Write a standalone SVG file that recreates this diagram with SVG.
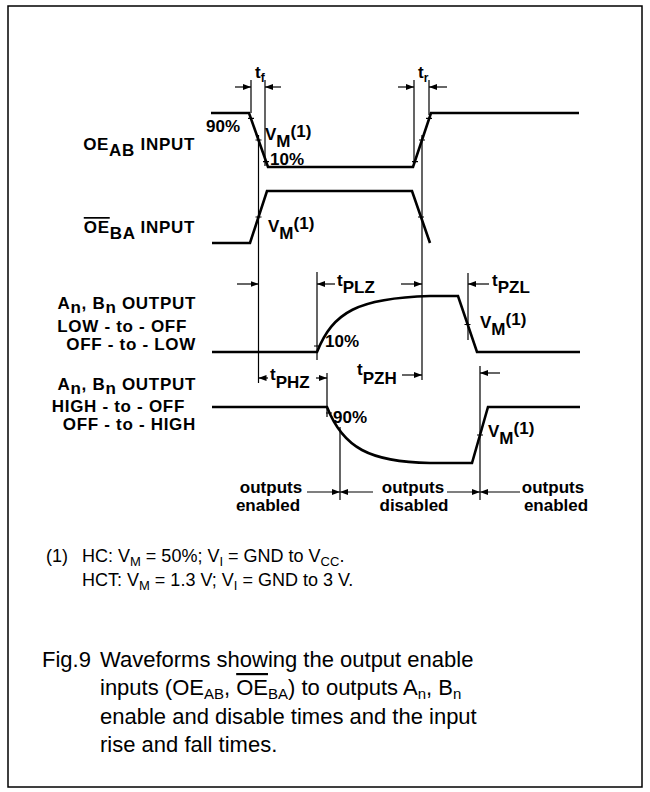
<svg xmlns="http://www.w3.org/2000/svg" width="650" height="792" viewBox="0 0 650 792">
<style>
.w{fill:none;stroke:#000;stroke-width:2.6;stroke-linejoin:miter}
.g{fill:none;stroke:#000;stroke-width:1.2}
.tk{stroke:#000;stroke-width:1.2}
.lb{font-family:"Liberation Sans",Arial,Helvetica,sans-serif;font-weight:bold;font-size:17px;fill:#000}
.ll{letter-spacing:0.7px}
.fn{font-family:"Liberation Sans",Arial,Helvetica,sans-serif;font-size:18px;fill:#000}
.cap{font-family:"Liberation Sans",Arial,Helvetica,sans-serif;font-size:22px;fill:#000}
.ol{text-decoration:overline}
</style>
<defs>
<marker id="ah" markerWidth="8" markerHeight="6" refX="8" refY="3" orient="auto" markerUnits="userSpaceOnUse">
<path d="M0,0 L8,3 L0,6 Z" fill="#000"/>
</marker>
</defs>
<rect x="8" y="6" width="634" height="781" fill="#fff" stroke="#000" stroke-width="1.5"/>

<g id="oeab">
<path class="w" d="M211 113 H249 L268 167 H413 L431 113 H579"/>
<path class="tk" d="M248 118.4 h6 M255.5 140 h6 M263 161.6 h6 M412 161.6 h6 M419 140 h6 M426 118.4 h6"/>
<text class="lb ll" x="195" y="150" text-anchor="end">OE<tspan dy="6">AB</tspan><tspan dy="-6"> INPUT</tspan></text>
<text class="lb" x="206" y="132">90%</text>
<text class="lb" x="265" y="140">V<tspan dy="7">M</tspan><tspan dy="-10">(1)</tspan></text>
<text class="lb" x="270" y="165">10%</text>
</g>

<g id="oeba">
<path class="w" d="M212 243 H250 L267 191 H412 L430 243"/>
<path class="tk" d="M255.5 217 h6 M418 217 h6"/>
<text class="lb ll" x="195" y="233" text-anchor="end"><tspan class="ol">OE</tspan><tspan dy="6">BA</tspan><tspan dy="-6"> INPUT</tspan></text>
<text class="lb" x="268" y="232">V<tspan dy="7">M</tspan><tspan dy="-10">(1)</tspan></text>
</g>

<g id="out-low">
<path class="w" d="M212 352 H317 C333 312 358 298 430 296 H458 L477 352 H580"/>
<path class="tk" d="M314 346 h6 M464.5 324.5 h6"/>
<text class="lb ll" x="196" y="309" text-anchor="end">A<tspan dy="4">n</tspan><tspan dy="-4">, B</tspan><tspan dy="4">n</tspan><tspan dy="-4"> OUTPUT</tspan></text>
<text class="lb ll" x="187" y="332" text-anchor="end">LOW - to - OFF</text>
<text class="lb ll" x="196" y="350" text-anchor="end">OFF - to - LOW</text>
<text class="lb" x="325" y="347">10%</text>
<text class="lb" x="480" y="328">V<tspan dy="7">M</tspan><tspan dy="-10">(1)</tspan></text>
</g>

<g id="out-high">
<path class="w" d="M212 407 H327 C343 448 370 462 430 463 H472 L488 407 H580"/>
<path class="tk" d="M326 413 h6 M477 435 h6"/>
<text class="lb ll" x="196" y="390" text-anchor="end">A<tspan dy="4">n</tspan><tspan dy="-4">, B</tspan><tspan dy="4">n</tspan><tspan dy="-4"> OUTPUT</tspan></text>
<text class="lb ll" x="185" y="412" text-anchor="end">HIGH - to - OFF</text>
<text class="lb ll" x="196" y="430" text-anchor="end">OFF - to - HIGH</text>
<text class="lb" x="333" y="423">90%</text>
<text class="lb" x="488" y="437">V<tspan dy="7">M</tspan><tspan dy="-10">(1)</tspan></text>
</g>

<g id="timing-labels">
<text class="lb" x="255" y="78">t<tspan dy="4" font-size="12">f</tspan></text>
<text class="lb" x="418" y="78">t<tspan dy="4" font-size="12">r</tspan></text>
<text class="lb" x="337" y="286">t<tspan dy="7">PLZ</tspan></text>
<text class="lb" x="492" y="286">t<tspan dy="7">PZL</tspan></text>
<text class="lb" x="270" y="380">t<tspan dy="8">PHZ</tspan></text>
<text class="lb" x="357" y="375">t<tspan dy="9">PZH</tspan></text>
</g>

<g id="status-labels">
<text class="lb" x="271" y="493" text-anchor="middle">outputs</text>
<text class="lb" x="268" y="511" text-anchor="middle">enabled</text>
<text class="lb" x="413" y="493" text-anchor="middle">outputs</text>
<text class="lb" x="414" y="511" text-anchor="middle">disabled</text>
<text class="lb" x="553" y="493" text-anchor="middle">outputs</text>
<text class="lb" x="556" y="511" text-anchor="middle">enabled</text>
</g>

<g id="connectors">
<path class="g" d="M251 80 V113 M265 80 V166 M258.5 135 V383 M414 80 V165 M429 80 V115 M422 135 V380 M317 272 V360 M327 373 V417 M468 273 V340 M480 366 V500 M340 427 V500"/>
<g class="g" marker-end="url(#ah)">
<line x1="235" y1="87" x2="251" y2="87"/>
<line x1="281" y1="87" x2="265" y2="87"/>
<line x1="398" y1="87" x2="414" y2="87"/>
<line x1="447" y1="87" x2="429" y2="87"/>
<line x1="237" y1="284" x2="258.5" y2="284"/>
<line x1="335" y1="284" x2="317" y2="284"/>
<line x1="401" y1="284" x2="422" y2="284"/>
<line x1="489" y1="284" x2="468" y2="284"/>
<line x1="268" y1="378" x2="258.5" y2="378"/>
<line x1="316" y1="378" x2="327" y2="378"/>
<line x1="402" y1="375" x2="422" y2="375"/>
<line x1="500" y1="373" x2="480" y2="373"/>
<line x1="307" y1="492" x2="340" y2="492"/>
<line x1="373" y1="492" x2="340" y2="492"/>
<line x1="447" y1="492" x2="480" y2="492"/>
<line x1="520" y1="492" x2="480" y2="492"/>
</g>
</g>

<g id="footnote">
<text class="fn" x="46" y="562">(1)</text>
<text class="fn" x="82" y="562">HC: V<tspan dy="4" font-size="13">M</tspan><tspan dy="-4"> = 50%; V</tspan><tspan dy="4" font-size="13">I</tspan><tspan dy="-4"> = GND to V</tspan><tspan dy="4" font-size="13">CC</tspan><tspan dy="-4">.</tspan></text>
<text class="fn" x="82" y="586">HCT: V<tspan dy="4" font-size="13">M</tspan><tspan dy="-4"> = 1.3 V; V</tspan><tspan dy="4" font-size="13">I</tspan><tspan dy="-4"> = GND to 3 V.</tspan></text>
</g>

<g id="caption">
<text class="cap" x="42" y="667">Fig.9</text>
<text class="cap" x="100" y="667">Waveforms showing the output enable</text>
<text class="cap" x="100" y="695">inputs (OE<tspan dy="4" font-size="15">AB</tspan><tspan dy="-4">, </tspan><tspan class="ol">OE</tspan><tspan dy="4" font-size="15">BA</tspan><tspan dy="-4">) to outputs A</tspan><tspan dy="4" font-size="15">n</tspan><tspan dy="-4">, B</tspan><tspan dy="4" font-size="15">n</tspan></text>
<text class="cap" x="100" y="724">enable and disable times and the input</text>
<text class="cap" x="100" y="752">rise and fall times.</text>
</g>
</svg>
